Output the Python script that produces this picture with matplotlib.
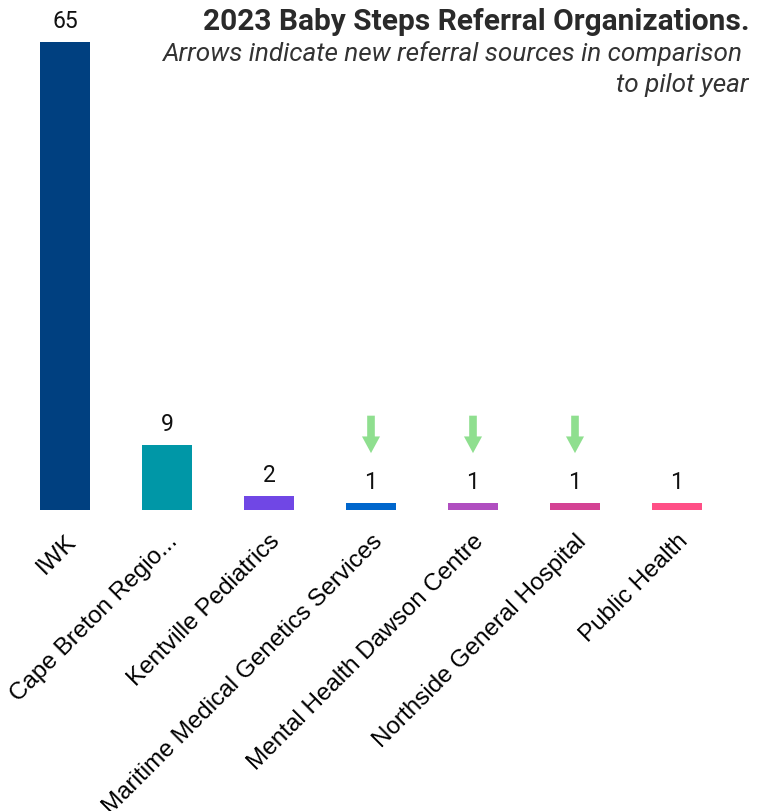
import matplotlib.pyplot as plt
import numpy as np

# data
orgs = ["IWK", "Cape Breton Regio...", "Kentville Pediatrics",
        "Maritime Medical Genetics Services", "Mental Health Dawson Centre",
        "Northside General Hospital", "Public Health"]
referrals = [65, 9, 2, 1, 1, 1, 1]
is_new = [False, False, False, True, True, True, False]
colors = ["#004080", "#0097a7", "#7047e5", "#0066cc", "#b04ec0", "#d44294", "#ff4f86"]

fig = plt.figure(figsize=(7.64, 8.12), dpi=100)
W, H = 764, 812
# axes placed in pixels: left 14, right 728, bottom 511, top 43
ax = fig.add_axes([14 / W, 1 - 511 / H, 714 / W, (511 - 43) / H])

x = np.arange(len(orgs))
ax.bar(x, referrals, width=0.49, color=colors)
ax.set_xlim(-0.5, len(orgs) - 0.5)
ax.set_ylim(0, 65)

for xi, v in zip(x, referrals):
    ax.text(xi, v + 1.4, str(v), ha="center", va="bottom", fontsize=16.5,
            family="Roboto", color="#111111", clip_on=False)

# arrows for new referral sources
for xi, v, new in zip(x, referrals, is_new):
    if new:
        ax.annotate("", xy=(xi, v + 6.9), xytext=(xi, v + 12.1),
                    arrowprops=dict(arrowstyle="simple,head_width=1.3,head_length=1.2,tail_width=0.55",
                                    color="#8fdf8f", lw=0, shrinkA=0, shrinkB=0))

ax.set_yticks([])
ax.set_xticks(x)
ax.set_xticklabels(orgs, rotation=45, ha="right", rotation_mode="anchor",
                   fontsize=17.5, family="Liberation Sans", color="black")
ax.tick_params(axis="x", length=0, pad=14)
for s in ax.spines.values():
    s.set_visible(False)

fig.text(750 / W, 1 - 22 / H, "2023 Baby Steps Referral Organizations.", ha="right", va="center",
         fontsize=21.5, fontweight="bold", family="Roboto", color="#2a2a2a")
fig.text(742 / W, 1 - 54 / H, "Arrows indicate new referral sources in comparison",
         ha="right", va="center", fontsize=18.8, style="italic", family="Roboto", color="#333333")
fig.text(748 / W, 1 - 85 / H, "to pilot year",
         ha="right", va="center", fontsize=18.8, style="italic", family="Roboto", color="#333333")

fig.savefig("out.png", dpi=100)
